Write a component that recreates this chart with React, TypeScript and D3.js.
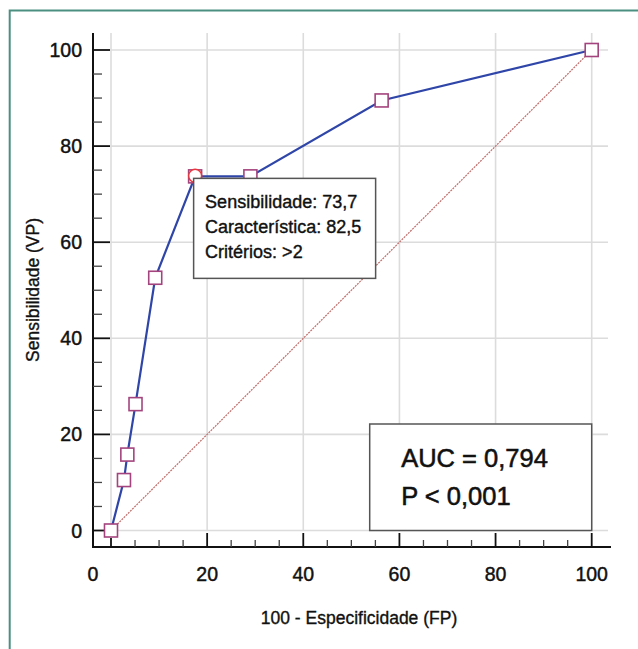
import { useEffect, useRef } from 'react';
import * as d3 from 'd3';

// ROC curve points: 100 - specificity (FP) and sensitivity (VP)
const fpr = [0, 2.7, 3.4, 5.1, 9.2, 17.5, 29.0, 56.3, 100];
const tpr = [0, 10.5, 15.8, 26.3, 52.6, 73.7, 73.7, 89.5, 100];
const selectedIndex = 5;
const majorTicks = [0, 20, 40, 60, 80, 100];
const tooltipLines = ['Sensibilidade: 73,7', 'Característica: 82,5', 'Critérios: >2'];
const statLines = ['AUC = 0,794', 'P < 0,001'];
const xTitle = '100 - Especificidade (FP)';
const yTitle = 'Sensibilidade (VP)';

const FONT = '"Liberation Sans", Arial, sans-serif';

// slight stroke to get the heavier look of the original labels
const bold = (sel: any, w = 0.45) => sel.attr('stroke', '#111').attr('stroke-width', w);

const RocChart = () => {
    const ref = useRef<SVGSVGElement>(null);

    useEffect(() => {
        if (!ref.current) return;
        const svg = d3.select(ref.current);
        svg.selectAll('*').remove();

        const x = d3.scaleLinear().domain([0, 100]).range([111, 591.7]);
        const y = d3.scaleLinear().domain([0, 100]).range([530.5, 50]);
        const axisX = 93;   // y axis line position
        const axisY = 547;  // x axis line position
        const top = 33;
        const right = 608;

        // outer frame (only top/left visible)
        svg.append('path')
            .attr('d', `M9.7,649 L9.7,10.5 L638,10.5`)
            .attr('fill', 'none')
            .attr('stroke', '#4a8f80')
            .attr('stroke-width', 2);

        // grid
        const grid = svg.append('g').attr('stroke', '#dcdcdc').attr('stroke-width', 1.6);
        grid.selectAll('.gv').data(majorTicks).join('line')
            .attr('x1', d => x(d)).attr('x2', d => x(d))
            .attr('y1', top).attr('y2', y(0));
        grid.selectAll('.gh').data(majorTicks).join('line')
            .attr('class', 'gh')
            .attr('x1', x(0)).attr('x2', right)
            .attr('y1', d => y(d)).attr('y2', d => y(d));

        // axes
        const minor = d3.range(0, 101, 5);
        const ax = svg.append('g').attr('stroke', '#111');
        ax.append('line').attr('x1', axisX).attr('x2', axisX).attr('y1', top).attr('y2', axisY + 1).attr('stroke-width', 2);
        ax.append('line').attr('x1', axisX - 1).attr('x2', 611).attr('y1', axisY).attr('y2', axisY).attr('stroke-width', 2);
        ax.selectAll('.ty').data(minor).join('line')
            .attr('class', 'ty')
            .attr('x1', axisX)
            .attr('x2', d => axisX + (d % 20 === 0 ? 17 : 9))
            .attr('y1', d => y(d)).attr('y2', d => y(d))
            .attr('stroke-width', d => (d % 20 === 0 ? 1.8 : 1.3))
            .attr('stroke', d => (d % 20 === 0 ? '#111' : '#444'));
        ax.selectAll('.tx').data(minor).join('line')
            .attr('class', 'tx')
            .attr('y1', axisY)
            .attr('y2', d => axisY - (d === 0 ? 9 : d % 20 === 0 ? 14 : 7))
            .attr('x1', d => x(d)).attr('x2', d => x(d))
            .attr('stroke-width', d => (d % 20 === 0 ? 1.8 : 1.3))
            .attr('stroke', d => (d % 20 === 0 ? '#111' : '#444'));

        // tick labels
        const lab = svg.append('g')
            .attr('font-family', FONT)
            .attr('font-size', 19.5)
            .attr('fill', '#111');
        bold(lab);
        lab.selectAll('.ly').data(majorTicks).join('text')
            .attr('class', 'ly')
            .attr('x', 82)
            .attr('y', d => y(d) + 7)
            .attr('text-anchor', 'end')
            .text(d => d);
        lab.selectAll('.lx').data(majorTicks).join('text')
            .attr('class', 'lx')
            .attr('x', d => (d === 0 ? axisX : x(d)))
            .attr('y', 580.5)
            .attr('text-anchor', 'middle')
            .text(d => d);

        // axis titles
        bold(svg.append('text')
            .attr('x', 359).attr('y', 623.5)
            .attr('text-anchor', 'middle')
            .attr('font-family', FONT).attr('font-size', 17.5)
            .attr('fill', '#111')
            .text(xTitle), 0.35);
        bold(svg.append('text')
            .attr('transform', 'translate(39,290) rotate(-90)')
            .attr('text-anchor', 'middle')
            .attr('font-family', FONT).attr('font-size', 17.5)
            .attr('fill', '#111')
            .text(yTitle), 0.35);

        // reference diagonal
        svg.append('line')
            .attr('x1', x(0)).attr('y1', y(0))
            .attr('x2', x(100)).attr('y2', y(100))
            .attr('stroke', '#bf6d6a')
            .attr('stroke-width', 1.2)
            .attr('stroke-dasharray', '2,1');

        // ROC curve
        const pts = fpr.map((f, i) => [f, tpr[i]] as [number, number]);
        svg.append('path')
            .datum(pts)
            .attr('d', d3.line<[number, number]>().x(d => x(d[0])).y(d => y(d[1])))
            .attr('fill', 'none')
            .attr('stroke', '#2f46a8')
            .attr('stroke-width', 2.2);

        const s = 13;
        svg.append('g').selectAll('rect').data(pts).join('rect')
            .attr('x', d => x(d[0]) - s / 2)
            .attr('y', d => y(d[1]) - s / 2)
            .attr('width', s).attr('height', s)
            .attr('fill', '#fff')
            .attr('stroke', '#a4447e')
            .attr('stroke-width', 1.6);

        const sel = pts[selectedIndex];
        svg.append('circle')
            .attr('cx', x(sel[0])).attr('cy', y(sel[1]) - 0.5)
            .attr('r', 6.5)
            .attr('fill', '#fff')
            .attr('stroke', '#e8373f')
            .attr('stroke-width', 1.5);

        // tooltip box for selected point
        const bx = x(sel[0]) - 1.5;
        const by = y(sel[1]) + 2;
        svg.append('rect')
            .attr('x', bx).attr('y', by)
            .attr('width', 182).attr('height', 100)
            .attr('fill', '#fff')
            .attr('stroke', '#555')
            .attr('stroke-width', 1.5);
        bold(svg.append('g')
            .attr('font-family', FONT).attr('font-size', 18)
            .attr('fill', '#111'), 0.4)
            .selectAll('text').data(tooltipLines).join('text')
            .attr('x', bx + 11.5)
            .attr('y', (d: string, i: number) => by + 30 + i * 25)
            .text((d: string) => d);

        // AUC box
        const ax2 = x(100) - 222;
        const ay2 = y(0) - 106.5;
        svg.append('rect')
            .attr('x', ax2).attr('y', ay2)
            .attr('width', 222).attr('height', 106.5)
            .attr('fill', '#fff')
            .attr('stroke', '#555')
            .attr('stroke-width', 1.5);
        bold(svg.append('g')
            .attr('font-family', FONT).attr('font-size', 25.5)
            .attr('fill', '#111'), 0.55)
            .selectAll('text').data(statLines).join('text')
            .attr('x', ax2 + 31.5)
            .attr('y', (d: string, i: number) => ay2 + 42.5 + i * 38.5)
            .text((d: string) => d);
    }, []);

    return (
        <svg ref={ref} width={638} height={649}
            style={{ position: 'absolute', left: 0, top: 0, background: '#fff' }} />
    );
};

export default function App() {
    return <RocChart />;
}
